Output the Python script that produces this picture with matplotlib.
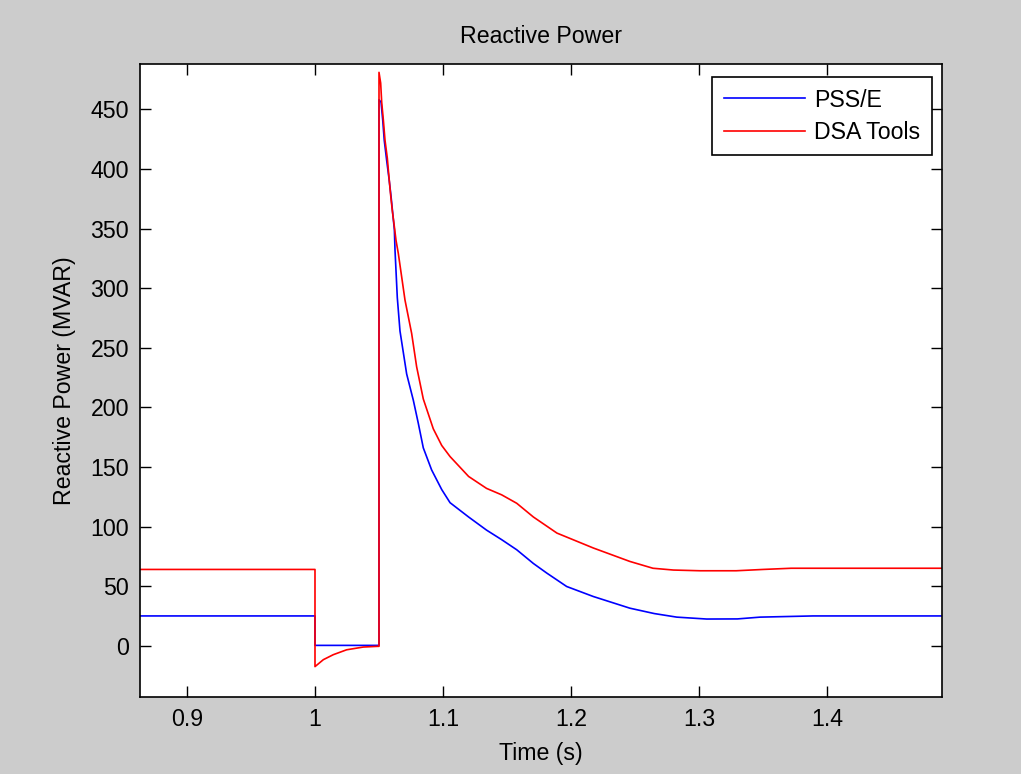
import matplotlib
matplotlib.use("Agg")
import matplotlib.pyplot as plt

plt.rcParams['font.family'] = ['Liberation Sans', 'DejaVu Sans']

# PSS/E series (time in s, reactive power in MVAR)
pss_t = [0.85, 1.0, 1.0, 1.05, 1.05, 1.0516, 1.0529, 1.0541, 1.056, 1.0578,
         1.0594, 1.0607, 1.062, 1.0625, 1.0643, 1.0664, 1.069, 1.0716, 1.0768,
         1.0807, 1.0846, 1.0911, 1.099, 1.1055, 1.12, 1.134, 1.1458, 1.1576,
         1.1706, 1.181, 1.1966, 1.2174, 1.246, 1.265, 1.2826, 1.306, 1.33,
         1.3477, 1.389, 1.50]
pss_q = [25, 25, 0.3, 0.3, 458, 456, 441, 424, 407, 392,
         377, 363, 349, 332, 292, 264, 246, 228, 206,
         186.6, 166, 147.5, 131, 120, 108, 97, 89, 80.5,
         69, 61, 49.7, 41.3, 31.5, 27, 24, 22.4, 22.5,
         24, 25, 25]

# DSA Tools series
dsa_t = [0.85, 1.0, 1.0, 1.0065, 1.0143, 1.0247, 1.0377, 1.049, 1.05, 1.05,
         1.0513, 1.0521, 1.0534, 1.0547, 1.0565, 1.0578, 1.0591, 1.0604, 1.062,
         1.0633, 1.0651, 1.0703, 1.0755, 1.0794, 1.0846, 1.0924, 1.099, 1.1055,
         1.12, 1.134, 1.1458, 1.1576, 1.1706, 1.189, 1.2174, 1.246, 1.264,
         1.28, 1.3008, 1.329, 1.35, 1.372, 1.50]
dsa_q = [64, 64, -17.5, -11.7, -7.5, -3.4, -1.1, -0.5, -0.5, 481,
         472, 456, 441, 424, 409, 393, 378, 365, 351.5,
         340, 329, 290, 262, 234, 207, 182, 168, 158.7,
         142, 132, 126.6, 119.5, 108, 94.5, 82, 70.7, 65,
         63.5, 62.9, 62.9, 64, 65, 65]

x_ticks = [0.9, 1.0, 1.1, 1.2, 1.3, 1.4]
x_tick_labels = ['0.9', '1', '1.1', '1.2', '1.3', '1.4']
y_ticks = [0, 50, 100, 150, 200, 250, 300, 350, 400, 450]

fs = 16.7

fig = plt.figure(figsize=(10.21, 7.74), dpi=100, facecolor='#cccccc')
ax = fig.add_axes([140 / 1021, 77 / 774, 802 / 1021, 633 / 774])
ax.set_facecolor('white')

ax.plot(pss_t, pss_q, color='#0000ff', lw=1.2, label='PSS/E')
ax.plot(dsa_t, dsa_q, color='#ff0000', lw=1.2, label='DSA Tools')

ax.set_xlim(0.8633, 1.4898)
ax.set_ylim(-43, 488)
ax.set_xticks(x_ticks)
ax.set_xticklabels(x_tick_labels)
ax.set_yticks(y_ticks)
ax.tick_params(direction='in', length=8, width=1, top=True, right=True,
               labelsize=fs, pad=8, colors='black')
for s in ax.spines.values():
    s.set_linewidth(1.2)
    s.set_color('black')

ax.set_title('Reactive Power', fontsize=fs, pad=15)
ax.set_xlabel('Time (s)', fontsize=fs, labelpad=8)
ax.set_ylabel('Reactive Power (MVAR)', fontsize=fs, labelpad=10)

leg = ax.legend(loc='upper right', bbox_to_anchor=(0.9875, 0.9795),
                borderaxespad=0, fancybox=False, edgecolor='black',
                framealpha=1, fontsize=fs, handlelength=3.5,
                handletextpad=0.4, borderpad=0.5, labelspacing=0.4)
leg.get_frame().set_linewidth(1.2)

fig.savefig('out.png', dpi=100, facecolor=fig.get_facecolor())
